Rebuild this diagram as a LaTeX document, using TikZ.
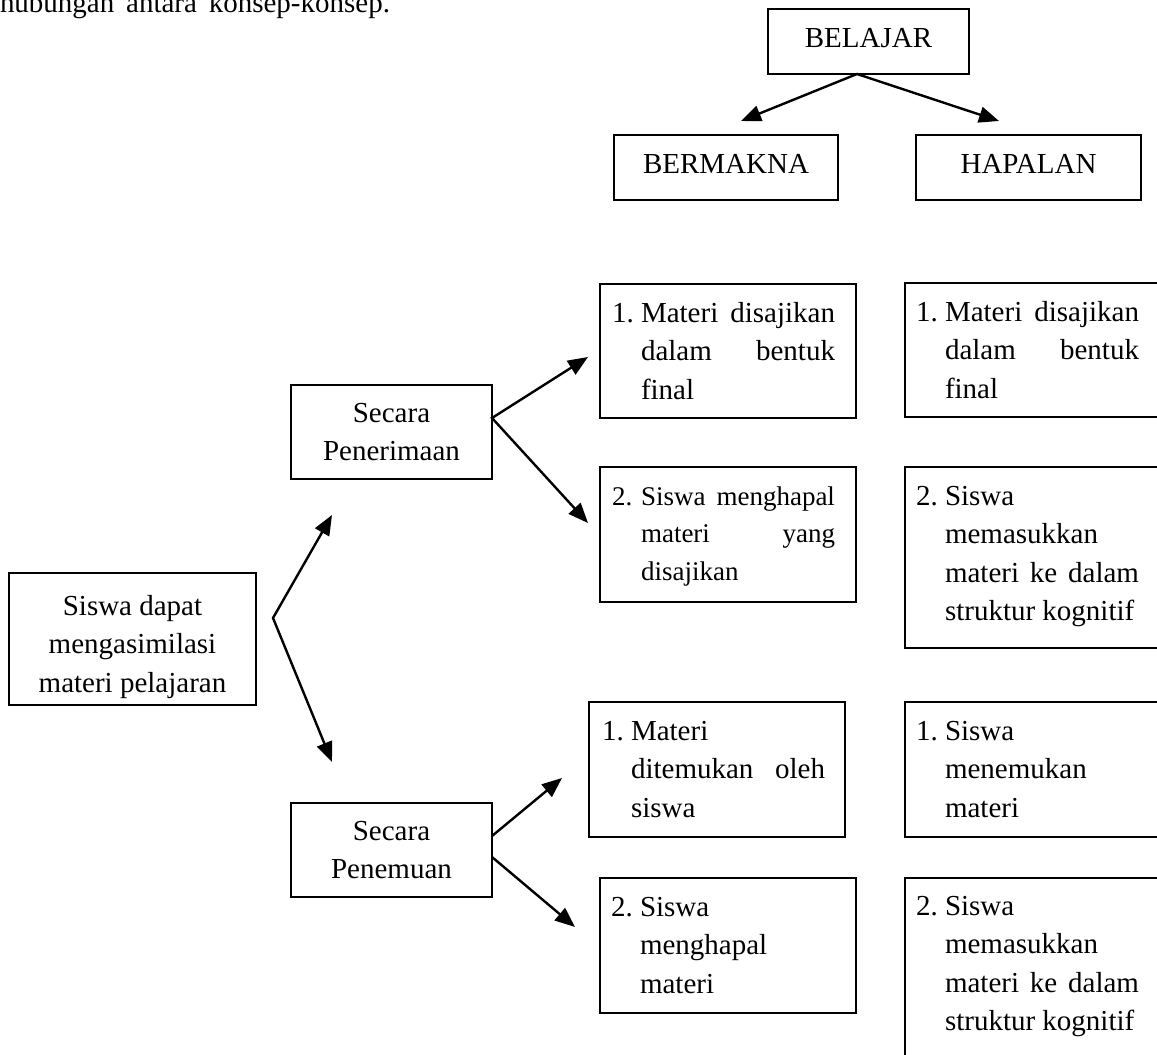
\documentclass[tikz,border=0pt]{standalone}
\usepackage{fontspec}
\setmainfont{Liberation Serif}
\usepackage{array}
\usetikzlibrary{arrows.meta}
\newcommand{\lbox}[2]{\begin{tabular}[t]{@{}p{29pt}@{}p{194pt}@{}}#1 & #2\end{tabular}}
\begin{document}
\begin{tikzpicture}[x=1pt,y=-1pt,
  font=\fontsize{29}{38.5}\selectfont,
  box/.style={draw, line width=2pt, inner sep=0pt, outer sep=0pt, align=center},
  hdr/.style={box, text depth=8pt},
  txt/.style={inner sep=0pt, outer sep=0pt, anchor=base west},
  arr/.style={line width=2.4pt, -{Triangle[length=20pt,width=16pt]}},
  arrb/.style={line width=2.4pt, {Triangle[length=20pt,width=16pt]}-{Triangle[length=20pt,width=16pt]}}]
\useasboundingbox (0,0) rectangle (1157,1055);
\fill[white] (0,0) rectangle (1157,1055);
\clip (0,0) rectangle (1157,1055);

% cut-off line of text at the top
\node[txt] (intro) at (0,12.5) {\hbox to 390pt{hubungan\hfill antara\hfill konsep-konsep.}};

% top hierarchy
\node[hdr, minimum width=201pt, minimum height=65pt] (belajar) at (868.5,41.5) {BELAJAR};
\node[hdr, minimum width=224pt, minimum height=65pt] (bermakna) at (726,167.5) {BERMAKNA};
\node[hdr, minimum width=225pt, minimum height=65pt] (hapalan) at (1028.5,167.5) {HAPALAN};

\coordinate (tipBm) at (741,121);
\coordinate (tipHp) at (999,121);
\draw[arrb] (tipBm) -- ([xshift=-11.5pt]belajar.south) -- (tipHp);

% left part
\node[box, minimum width=247pt, minimum height=132pt] (siswa) at (132.5,639) {};
\node[inner sep=0pt, anchor=base] (siswaT) at (132.5,615)
  {\begin{tabular}[t]{@{}c@{}}Siswa dapat\\ mengasimilasi\\ materi pelajaran\end{tabular}};

\node[box, minimum width=201pt, minimum height=94pt] (pener) at (391.5,432) {Secara\\ Penerimaan};
\node[box, minimum width=201pt, minimum height=94pt] (penem) at (391.5,850) {Secara\\ Penemuan};

\coordinate (fork) at (273,618);
\coordinate (tipSU) at (332,515);
\coordinate (tipSD) at (332,762);
\draw[arrb] (tipSU) -- (fork) -- (tipSD);

\coordinate (tipPU) at (588,357);
\coordinate (tipPD) at (588,523);
\draw[arrb] (tipPU) -- ([yshift=14pt]pener.east) -- (tipPD);

\coordinate (tipMU) at (562,778);
\coordinate (tipMD) at (575,927);
\draw[arr] ([yshift=14pt]penem.east) -- (tipMU);
\draw[arr] ([yshift=-7pt]penem.east) -- (tipMD);

% BERMAKNA column
\node[box, minimum width=256pt, minimum height=134pt] (b1) at (728,351) {};
\node[txt] (b1t) at (612,322) {\lbox{1.}{Materi\hfill disajikan\\ & dalam\hfill bentuk\\ & final}};

\node[box, minimum width=256pt, minimum height=135pt] (b2) at (728,534.5) {};
\node[txt] (b2t) at (612,505) {\fontsize{27}{37.5}\selectfont\lbox{2.}{Siswa\hfill menghapal\\ & materi\hfill yang\\ & disajikan}};

\node[box, minimum width=256pt, minimum height=135pt] (b3) at (717,769.5) {};
\node[txt] (b3t) at (602,740) {\lbox{1.}{Materi\\ & ditemukan\hfill oleh\\ & siswa}};

\node[box, minimum width=256pt, minimum height=135pt] (b4) at (728,945.5) {};
\node[txt] (b4t) at (611,916) {\lbox{2.}{Siswa\\ & menghapal\\ & materi}};

% HAPALAN column
\node[box, minimum width=257pt, minimum height=134pt] (h1) at (1033.5,350) {};
\node[txt] (h1t) at (916,321) {\lbox{1.}{Materi\hfill disajikan\\ & dalam\hfill bentuk\\ & final}};

\node[box, minimum width=257pt, minimum height=181pt] (h2) at (1033.5,557.5) {};
\node[txt] (h2t) at (916,505) {\lbox{2.}{Siswa\\ & memasukkan\\ & materi\hfill ke\hfill dalam\\ & struktur kognitif}};

\node[box, minimum width=257pt, minimum height=135pt] (h3) at (1033.5,769.5) {};
\node[txt] (h3t) at (916,740) {\lbox{1.}{Siswa\\ & menemukan\\ & materi}};

\node[box, minimum width=257pt, minimum height=192pt] (h4) at (1033.5,974) {};
\node[txt] (h4t) at (916,915) {\lbox{2.}{Siswa\\ & memasukkan\\ & materi\hfill ke\hfill dalam\\ & struktur kognitif}};
\end{tikzpicture}
\end{document}
